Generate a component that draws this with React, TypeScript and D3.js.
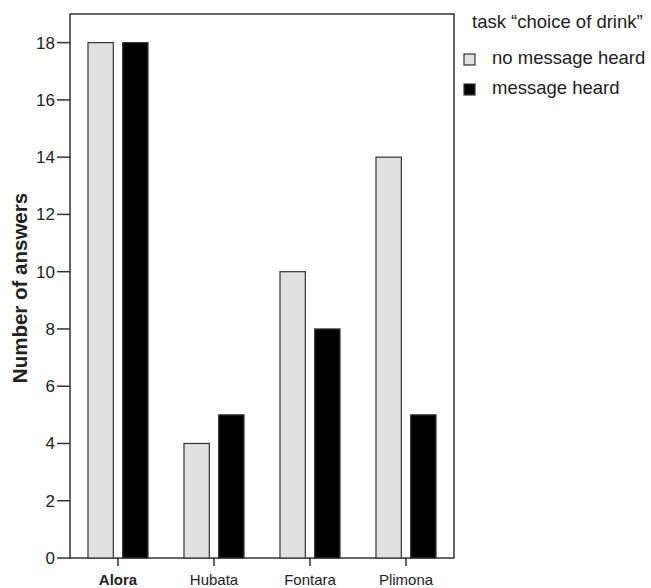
import React from "react";
import * as d3 from "d3";

const categories = ["Alora", "Hubata", "Fontara", "Plimona"];
const noMessage = [18, 4, 10, 14];
const messageHeard = [18, 5, 8, 5];
const yTicks = [0, 2, 4, 6, 8, 10, 12, 14, 16, 18];
const seriesNames = ["no message heard", "message heard"];
const legendTitle = "task \u201cchoice of drink\u201d";

const W = 651, H = 588;
const left = 70, right = 454, top = 14, bottom = 558;

export default function App() {
  const x = d3.scaleBand<string>().domain(categories).range([left, right]).padding(0);
  const y = d3.scaleLinear().domain([0, 19]).range([bottom, top]);
  const inner = d3.scaleBand<string>().domain(["a", "b"]).range([-30, 30]).paddingInner(0.27);
  const font = "'Liberation Sans', Arial, Helvetica, sans-serif";
  const stroke = "#333";
  const series = [
    { key: "a", values: noMessage, fill: "#e0e0e0" },
    { key: "b", values: messageHeard, fill: "#000" },
  ];
  return (
    <svg width={W} height={H} style={{ position: "absolute", left: 0, top: 0 }} fontFamily={font}>
      <rect x={0} y={0} width={W} height={H} fill="#fff" />
      {/* frame */}
      <rect x={left} y={top} width={right - left} height={bottom - top} fill="none" stroke={stroke} strokeWidth={1.5} />
      {/* bars */}
      {series.map((s) =>
        categories.map((c, i) => {
          const cx = (x(c) as number) + x.bandwidth() / 2;
          const x0 = cx + (inner(s.key) as number);
          return (
            <rect key={s.key + c} x={x0} y={y(s.values[i])} width={inner.bandwidth()} height={bottom - y(s.values[i])}
              fill={s.fill} stroke={stroke} strokeWidth={1.2} />
          );
        })
      )}
      {/* y ticks */}
      {yTicks.map((t) => (
        <g key={t}>
          <line x1={57} x2={left} y1={y(t)} y2={y(t)} stroke={stroke} strokeWidth={1.5} />
          <text x={55} y={y(t)} dy="0.35em" textAnchor="end" fontSize={17} fill="#222">{t}</text>
        </g>
      ))}
      {/* x ticks */}
      {categories.map((c, i) => {
        const cx = (x(c) as number) + x.bandwidth() / 2;
        return (
          <g key={c}>
            <line x1={cx} x2={cx} y1={bottom} y2={bottom + 8} stroke={stroke} strokeWidth={1.5} />
            <text x={cx} y={585} textAnchor="middle" fontSize={15} fontWeight={i === 0 ? "bold" : "normal"} fill="#222">{c}</text>
          </g>
        );
      })}
      {/* y label */}
      <text transform={`translate(27, 288) rotate(-90)`} textAnchor="middle" fontSize={20.5} fontWeight="bold" fill="#222">
        Number of answers
      </text>
      {/* legend */}
      <text x={472} y={28} fontSize={18.5} fill="#222">{legendTitle}</text>
      {seriesNames.map((n, i) => (
        <g key={n}>
          <rect x={464} y={54 + i * 30} width={11} height={11} fill={series[i].fill} stroke={stroke} strokeWidth={1.2} />
          <text x={492} y={64 + i * 30} fontSize={18.5} fill="#222">{n}</text>
        </g>
      ))}
    </svg>
  );
}
